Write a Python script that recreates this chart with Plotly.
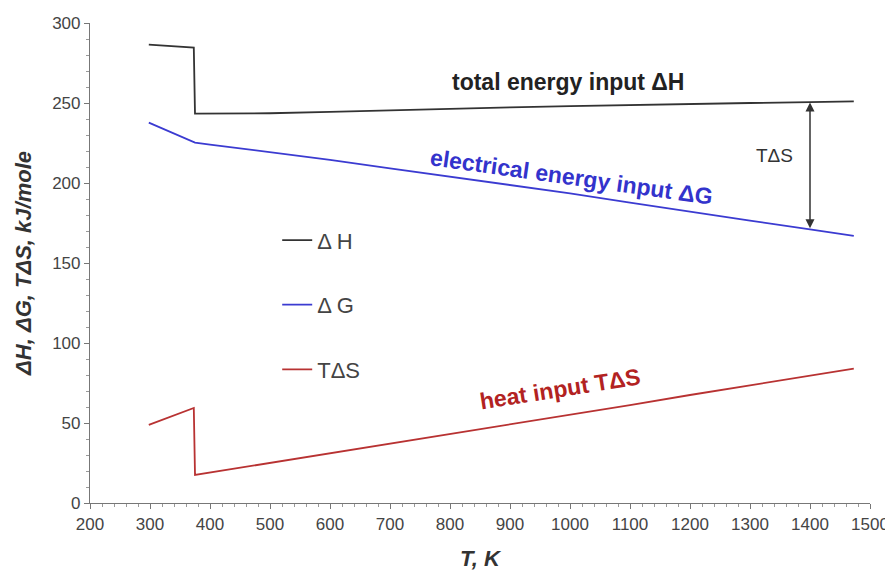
import plotly.graph_objects as go

# Temperature (K) and values (kJ/mole)
T = [298, 373, 375, 400, 500, 600, 700, 800, 900, 1000, 1100, 1200, 1300, 1400, 1473]
dH = [286.5, 284.6, 243.4, 243.4, 243.6, 244.5, 245.5, 246.5, 247.3, 248.0, 248.8, 249.5, 250.0, 250.5, 251.0]
dG = [237.7, 225.2, 225.2, 224.0, 219.2, 214.5, 209.2, 204.0, 198.7, 193.5, 187.8, 182.0, 176.5, 171.0, 167.0]
TdS = [48.8, 59.4, 17.5, 19.0, 25.0, 31.0, 37.0, 43.0, 49.0, 55.0, 61.2, 67.5, 73.5, 79.5, 84.0]

names = ["\u0394 H", "\u0394 G", "T\u0394S"]
colors = ["#333333", "#3b3bd1", "#b83232"]
series = [dH, dG, TdS]

x_ticks = list(range(200, 1501, 100))
y_ticks = list(range(0, 301, 50))

fig = go.Figure()
for i, (nm, col, ys) in enumerate(zip(names, colors, series)):
    fig.add_trace(go.Scatter(x=T, y=ys, mode="lines", name=nm,
                             line=dict(color=col, width=1.8),
                             legendgroup=str(i)))

FONT = "Liberation Sans, Arial, sans-serif"

fig.update_layout(
    width=885, height=564,
    margin=dict(l=82, r=23, t=15, b=69),
    paper_bgcolor="white", plot_bgcolor="white",
    font=dict(family=FONT, color="#444444", size=17),
    showlegend=True,
    legend=dict(x=0.24, y=0.591, xanchor="left", yanchor="top",
                bgcolor="rgba(0,0,0,0)", tracegroupgap=33,
                font=dict(size=22, color="#444444"), itemwidth=30),
    xaxis=dict(range=[200, 1500], tickvals=x_ticks, ticktext=[str(v) for v in x_ticks],
               automargin=False,
               showgrid=False, zeroline=False, showline=True, linecolor="#777777", linewidth=1.2,
               ticks="outside", ticklen=5, tickcolor="#777777",
               minor=dict(dtick=20, ticks="outside", ticklen=3, tickcolor="#999999"),
               tickfont=dict(size=17, color="#444444"),
               title=dict(text="<b><i>T, K</i></b>", font=dict(size=22, color="#333333"), standoff=18)),
    yaxis=dict(range=[0, 300], tickvals=y_ticks, ticktext=[str(v) for v in y_ticks],
               automargin=False,
               showgrid=False, zeroline=False, showline=True, linecolor="#777777", linewidth=1.2,
               ticks="outside", ticklen=5, tickcolor="#777777",
               minor=dict(dtick=10, ticks="outside", ticklen=3, tickcolor="#999999"),
               tickfont=dict(size=17, color="#444444"),
               title=dict(text="<b><i>\u0394H, \u0394G, T\u0394S, kJ/mole</i></b>",
                          font=dict(size=22, color="#333333"), standoff=14)),
)

fig.add_annotation(x=997, y=263, xref="x", yref="y", text="<b>total energy input \u0394H</b>",
                   showarrow=False, font=dict(size=23, color="#222222"))
fig.add_annotation(x=1003, y=203.5, xref="x", yref="y", text="<b>electrical energy input \u0394G</b>",
                   showarrow=False, textangle=8, font=dict(size=23, color="#3333cc"))
fig.add_annotation(x=983, y=71, xref="x", yref="y", text="<b>heat input T\u0394S</b>",
                   showarrow=False, textangle=-9, font=dict(size=23, color="#b22222"))
fig.add_annotation(x=1340, y=217, xref="x", yref="y", text="T\u0394S",
                   showarrow=False, font=dict(size=19, color="#333333"))
fig.add_annotation(x=1400, y=250.3, xref="x", yref="y", ax=1400, ay=170.8,
                   axref="x", ayref="y", text="", showarrow=True,
                   arrowhead=2, arrowside="end+start", arrowsize=1.2, arrowwidth=1.5,
                   arrowcolor="#333333")

fig.write_html("out.html")
